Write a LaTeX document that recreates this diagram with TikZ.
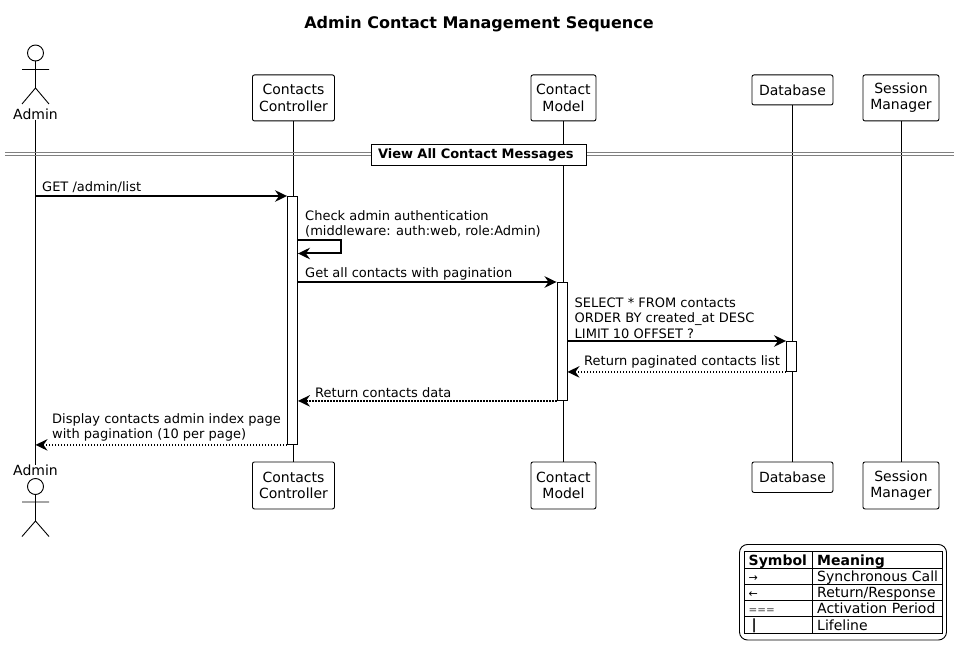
\documentclass[tikz,border=0pt]{standalone}
\usepackage{fontspec}
\setmainfont{DejaVu Sans}
\usetikzlibrary{arrows.meta}
\definecolor{divgray}{HTML}{808080}
\definecolor{symgray}{HTML}{444444}
\newcommand{\msgfont}{\fontsize{13}{15.5}\selectfont}
\newcommand{\partfont}{\fontsize{14}{16.3}\selectfont}
\tikzset{
  x=1pt,y=-1pt,
  every node/.style={font=\msgfont,inner sep=0pt},
  part/.style={draw,rounded corners=2pt,line width=.9pt,fill=white,align=center,anchor=north west,font=\partfont},
  life/.style={line width=.9pt},
  bar/.style={draw,fill=white,line width=.9pt,minimum width=10pt,anchor=north,inner sep=0pt},
  call/.style={line width=2pt,-{Stealth[length=12pt,width=11.5pt,inset=4pt]}},
  ret/.style={line width=1.5pt,dash pattern=on 1.5pt off 1.5pt,-{Stealth[length=12pt,width=11.5pt,inset=4pt]}},
  msg/.style={anchor=south west,align=left},
  stick/.style={line width=.9pt},
  tline/.style={line width=.9pt},
  ttext/.style={anchor=base west,font=\partfont},
}
\begin{document}
\begin{tikzpicture}
\useasboundingbox (0,0) rectangle (959,652);
\fill[white] (0,0) rectangle (959,652);
\node[font=\fontsize{16}{18}\selectfont\bfseries] (title) at (479,24.5) {Admin Contact Management Sequence};

% actor labels
\node[font=\partfont] (atop) at (35.5,114) {Admin};
\node[font=\partfont] (abot) at (35.5,470.5) {Admin};

% participants
\node[part,minimum width=82pt,minimum height=46pt] (ctop) at (252,74.5) {Contacts\\Controller};
\node[part,minimum width=65pt,minimum height=46pt] (mtop) at (530.5,74.5) {Contact\\Model};
\node[part,minimum width=81pt,minimum height=30pt] (dtop) at (751.5,74.5) {Database};
\node[part,minimum width=76pt,minimum height=46pt] (stop) at (862.5,74.5) {Session\\Manager};
\node[part,minimum width=82pt,minimum height=47pt] (cbot) at (252,461.5) {Contacts\\Controller};
\node[part,minimum width=65pt,minimum height=47pt] (mbot) at (530.5,461.5) {Contact\\Model};
\node[part,minimum width=81pt,minimum height=30.5pt] (dbot) at (751.5,461.5) {Database};
\node[part,minimum width=76pt,minimum height=47pt] (sbot) at (862.5,461.5) {Session\\Manager};

% lifelines
\draw[life] (atop.south) -- (abot.north);
\draw[life] (ctop.south) -- (cbot.north);
\draw[life] (mtop.south) -- (mbot.north);
\draw[life] (dtop.south) -- (dbot.north);
\draw[life] (stop.south) -- (sbot.north);

% actors
\draw[stick] (35.5,53) circle (8);
\draw[stick] (35.5,61) -- (35.5,88) (22,69.5) -- (49,69.5) (22,104) -- (35.5,88) -- (49,104);
\draw[stick,fill=white] (35.5,486.5) circle (8);
\draw[stick] (35.5,494.5) -- (35.5,521) (22,502) -- (49,502) (22,536.5) -- (35.5,521) -- (49,536.5);

% divider
\draw[divgray,line width=1pt] (5,152.5) -- (954,152.5) (5,155.5) -- (954,155.5);
\node[draw,line width=.9pt,fill=white,inner xsep=7pt,text width=201pt,align=left,minimum height=21pt,font=\msgfont\bfseries] (div) at (478.5,154.5) {View All Contact Messages};

% activations
\node[bar,minimum height=248pt] (ac) at (292.5,196) {};
\node[bar,minimum height=118pt] (am) at (562,282) {};
\node[bar,minimum height=30pt] (ad) at (791.5,341) {};

% messages
\coordinate (a1) at (35.5,196);
\draw[call] (a1) -- (ac.north west);
\node[msg] (m1) at (42,193) {GET /admin/list};

\coordinate (s1) at (ac.east |- 0,240);
\coordinate (s2) at (341,240);
\coordinate (s3) at (341,253.5);
\coordinate (s4) at (ac.east |- 0,253.5);
\draw[call] (s1) -- (s2) -- (s3) -- (s4);
\node[msg] (m2) at (305,237.5) {Check admin authentication\\(middleware: auth:web, role:Admin)};

\coordinate (c3) at (ac.east |- 0,282);
\draw[call] (c3) -- (am.north west);
\node[msg] (m3) at (305,280) {Get all contacts with pagination};

\coordinate (c4) at (am.east |- 0,341);
\draw[call] (c4) -- (ad.north west);
\node[msg] (m4) at (574.5,338.5) {SELECT * FROM contacts\\ORDER BY created\_at DESC\\LIMIT 10 OFFSET ?};

\coordinate (c5) at (ad.south west);
\coordinate (c5b) at (am.east |- ad.south);
\draw[ret] (c5) -- (c5b);
\node[msg] (m5) at (584,368.5) {Return paginated contacts list};

\coordinate (c6b) at (ac.east |- am.south);
\draw[ret] (am.south west) -- (c6b);
\node[msg] (m6) at (315,397.5) {Return contacts data};

\coordinate (c7) at (a1 |- ac.south);
\draw[ret] (ac.south west) -- (c7);
\node[msg] (m7) at (52,441.5) {Display contacts admin index page\\with pagination (10 per page)};

% legend
\draw[line width=.9pt,rounded corners=8pt] (739.5,544.5) rectangle (946.5,640);
\draw[tline] (744.5,551.5) rectangle (942.5,633.5);
\draw[tline] (812.5,551.5) -- (812.5,633.5);
\foreach \yy in {568.5,584.5,600.5,616.5} \draw[tline] (744.5,\yy) -- (942.5,\yy);
\node[ttext,font=\partfont\bfseries] (l1) at (748.5,565) {Symbol};
\node[ttext,font=\partfont\bfseries] (l2) at (817,565) {Meaning};
\node[ttext,font=\fontsize{11}{13}\selectfont] (l3) at (748.5,581) {→};
\node[ttext] (l4) at (817,581) {Synchronous Call};
\node[ttext,font=\fontsize{11}{13}\selectfont] (l5) at (748.5,597) {←};
\node[ttext] (l6) at (817,597) {Return/Response};
\node[ttext,font=\fontsize{10.4}{12}\selectfont,text=symgray] (l7) at (748.5,613) {===};
\node[ttext] (l8) at (817,613.5) {Activation Period};
\node[ttext,font=\partfont\bfseries] (l9) at (751.5,629.5) {|};
\node[ttext] (l10) at (817,630) {Lifeline};
\end{tikzpicture}
\end{document}
